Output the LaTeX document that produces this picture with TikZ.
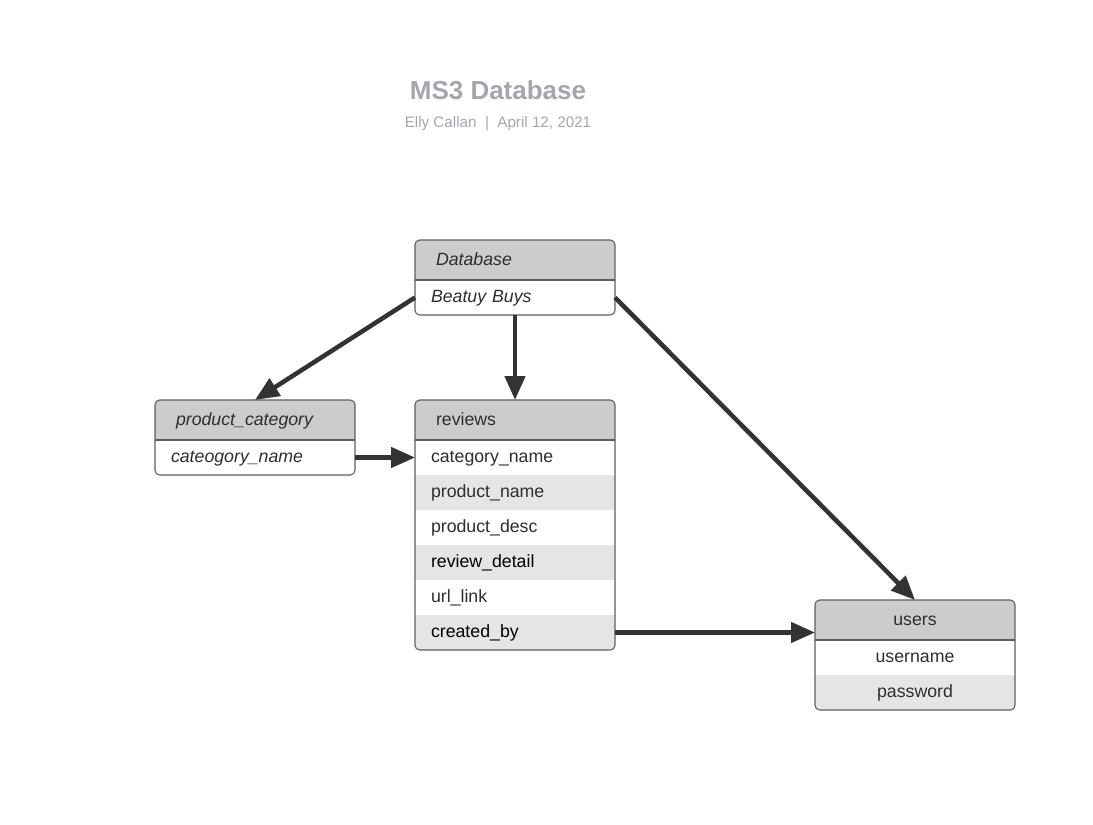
\documentclass[tikz,border=0pt]{standalone}
\usepackage{fontspec}
\setmainfont{Liberation Sans}
\usetikzlibrary{positioning,arrows.meta}

\definecolor{cabgris}{HTML}{CCCCCC}
\definecolor{filagris}{HTML}{E5E5E5}
\definecolor{bordegris}{HTML}{5E5E5E}
\definecolor{flechagris}{HTML}{333333}
\definecolor{titulogris}{HTML}{A2A6AD}
\definecolor{texto}{HTML}{2E2E2E}

\begin{document}
\begin{tikzpicture}[x=0.75pt, y=-0.75pt,
    cab/.style={rectangle, fill=cabgris, outer sep=0pt, minimum width=150pt, minimum height=30pt,
        inner xsep=15.75pt, text width=118.5pt, align=left, text=texto,
        font=\fontsize{13.3pt}{16pt}\selectfont, text height=10.4pt, text depth=2.2pt},
    fila/.style={rectangle, fill=white, outer sep=0pt, minimum width=150pt, minimum height=26.25pt,
        inner xsep=12pt, text width=126pt, align=left, text=texto,
        font=\fontsize{13.3pt}{16pt}\selectfont, text height=10.4pt, text depth=2.2pt},
    gris/.style={fill=filagris},
    centro/.style={align=center},
    borde/.style={draw=bordegris, line width=0.8pt, rounded corners=3.5pt},
    flecha/.style={draw=flechagris, line width=3.4pt, -{Triangle[length=18pt, width=15pt]}}
]
    \useasboundingbox (0,0) rectangle (1093,825);

    % Titulo
    \node[text=titulogris, font=\fontsize{19.5pt}{23pt}\selectfont\bfseries] (titulo) at (498,90) {MS3 Database};
    \node[text=titulogris, font=\fontsize{11.4pt}{14pt}\selectfont] (autor) at (498,124) {Elly Callan~~|~~April 12, 2021};

    % Tablas
    \begin{scope}
        \clip[rounded corners=3.5pt] (415,240) rectangle (615,315);
        \node[cab, anchor=north west] (dbH) at (415,240) {\textit{Database}};
        \node[fila, below=0pt of dbH] (beatuy) {\textit{Beatuy Buys}};
    \end{scope}
    \draw[borde] (dbH.north west) rectangle (beatuy.south east);
    \draw[borde] (dbH.south west) -- (dbH.south east);

    \begin{scope}
        \clip[rounded corners=3.5pt] (155,400) rectangle (355,475);
        \node[cab, anchor=north west] (catH) at (155,400) {\textit{product\_category}};
        \node[fila, below=0pt of catH] (catname) {\textit{cateogory\_name}};
    \end{scope}
    \draw[borde] (catH.north west) rectangle (catname.south east);
    \draw[borde] (catH.south west) -- (catH.south east);

    \begin{scope}
        \clip[rounded corners=3.5pt] (415,400) rectangle (615,650);
        \node[cab, anchor=north west] (reviewsH) at (415,400) {reviews};
        \node[fila, below=0pt of reviewsH] (rcat) {category\_name};
        \node[fila, gris, below=0pt of rcat] (rname) {product\_name};
        \node[fila, below=0pt of rname] (rdesc) {product\_desc};
        \node[fila, gris, text=black, below=0pt of rdesc] (rdetail) {review\_detail};
        \node[fila, below=0pt of rdetail] (rlink) {url\_link};
        \node[fila, gris, text=black, below=0pt of rlink] (createdby) {created\_by};
    \end{scope}
    \draw[borde] (reviewsH.north west) rectangle (createdby.south east);
    \draw[borde] (reviewsH.south west) -- (reviewsH.south east);

    \begin{scope}
        \clip[rounded corners=3.5pt] (815,600) rectangle (1015,710);
        \node[cab, centro, anchor=north west] (usersH) at (815,600) {users};
        \node[fila, centro, below=0pt of usersH] (username) {username};
        \node[fila, centro, gris, below=0pt of username] (password) {password};
    \end{scope}
    \draw[borde] (usersH.north west) rectangle (password.south east);
    \draw[borde] (usersH.south west) -- (usersH.south east);

    % Flechas
    \draw[flecha] (beatuy.west) -- (catH.north);
    \draw[flecha] (beatuy.south) -- (reviewsH.north);
    \draw[flecha] (beatuy.east) -- (usersH.north);
    \draw[flecha] (catname.east) -- (rcat.west);
    \draw[flecha] (createdby.east) -- (createdby.east -| usersH.west);

\end{tikzpicture}
\end{document}
